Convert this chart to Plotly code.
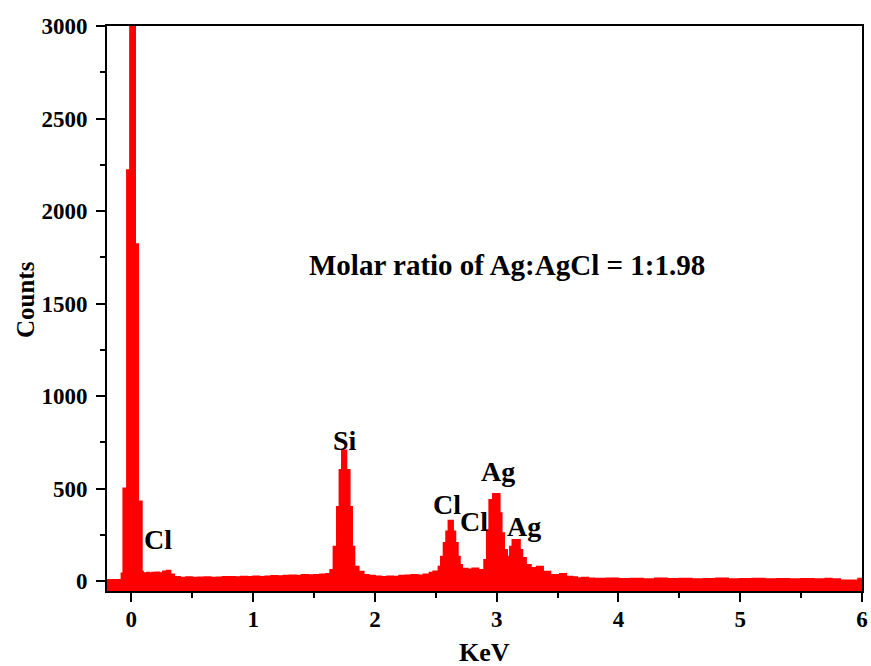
import plotly.graph_objects as go

# EDS spectrum (step edges in keV, counts per step)
energy = [-0.20, -0.08, -0.065, -0.035, -0.01, 0.03, 0.055, 0.085, 0.095, 0.11,
          0.13, 0.15, 0.17, 0.20, 0.23, 0.26, 0.29, 0.32, 0.35, 0.40,
          0.45, 0.50, 0.55, 0.60, 0.65, 0.70, 0.75, 0.80, 0.85, 0.90,
          0.95, 1.00, 1.05, 1.10, 1.15, 1.20, 1.25, 1.30, 1.35, 1.40,
          1.45, 1.50, 1.55, 1.60, 1.634, 1.661, 1.689, 1.710, 1.730, 1.765,
          1.792, 1.812, 1.831, 1.866, 1.907, 1.95, 2.00, 2.05, 2.10, 2.15,
          2.20, 2.25, 2.30, 2.35, 2.40, 2.45, 2.48, 2.523, 2.543, 2.565,
          2.586, 2.605, 2.641, 2.66, 2.68, 2.697, 2.715, 2.76, 2.80, 2.85,
          2.898, 2.92, 2.94, 2.97, 3.024, 3.04, 3.06, 3.085, 3.11, 3.13,
          3.19, 3.21, 3.24, 3.28, 3.33, 3.38, 3.44, 3.52, 3.57, 3.62,
          3.66, 3.70, 3.75, 3.80, 3.90, 4.00, 4.10, 4.20, 4.30, 4.40,
          4.50, 4.60, 4.70, 4.80, 4.90, 5.00, 5.10, 5.20, 5.30, 5.40,
          5.50, 5.60, 5.70, 5.75, 5.82, 5.97, 6.00]
counts = [5, 40, 500, 2220, 3100, 1820, 430, 50, 20, 42,
          45, 38, 44, 46, 42, 52, 55, 35, 22, 18,
          20, 17, 19, 20, 18, 19, 21, 22, 20, 23,
          21, 24, 22, 25, 27, 26, 28, 30, 29, 32,
          31, 33, 35, 38, 59, 185, 400, 600, 705, 600,
          400, 185, 77, 50, 32, 28, 24, 22, 25, 23,
          28, 30, 32, 30, 35, 45, 52, 77, 131, 205,
          267, 326, 267, 205, 131, 86, 66, 62, 68, 60,
          113, 275, 438, 470, 366, 258, 168, 131, 185, 222,
          168, 124, 86, 70, 77, 50, 32, 38, 23, 20,
          15, 18, 14, 12, 13, 11, 12, 10, 13, 11,
          12, 10, 11, 13, 10, 11, 12, 10, 11, 9,
          11, 10, 12, 9, 3, 12, 12]

x_range = [-0.2, 6.0]
y_range = [-54, 3000]

peak_labels = ["Cl", "Si", "Cl", "Cl", "Ag", "Ag"]
peak_x = [0.215, 1.757, 2.59, 2.816, 3.009, 3.223]
peak_y = [222, 762, 416, 324, 590, 295]

note_text = "Molar ratio of Ag:AgCl = 1:1.98"
note_x = 3.087
note_y = 1708

x_title = "KeV"
y_title = "Counts"

RED = "#FF0000"
FONT = "Liberation Serif"

fig = go.Figure()
fig.add_trace(go.Scatter(x=energy, y=[y_range[0]] * len(energy), mode="lines",
                         line=dict(width=0, shape="hv"), hoverinfo="skip",
                         showlegend=False))
fig.add_trace(go.Scatter(x=energy, y=counts, mode="lines",
                         line=dict(color=RED, width=2, shape="hv"),
                         fill="tonexty", fillcolor=RED, showlegend=False))

for t, x, y in zip(peak_labels, peak_x, peak_y):
    fig.add_annotation(x=x, y=y, text="<b>%s</b>" % t, showarrow=False,
                       font=dict(family=FONT, size=28, color="black"))
fig.add_annotation(x=note_x, y=note_y, text="<b>%s</b>" % note_text, showarrow=False,
                   font=dict(family=FONT, size=29, color="black"))

# axis titles placed beside the axes
fig.add_annotation(xref="paper", yref="paper", x=0.5, y=0, yanchor="middle",
                   yshift=-61, text="<b>%s</b>" % x_title, showarrow=False,
                   font=dict(family=FONT, size=26, color="black"))
fig.add_annotation(xref="paper", yref="paper", x=0, y=0.515, xanchor="center",
                   xshift=-82, text="<b>%s</b>" % y_title, showarrow=False,
                   textangle=-90, font=dict(family=FONT, size=25, color="black"))

axis_common = dict(showline=True, linecolor="black", linewidth=2, mirror=True,
                   ticks="outside", ticklen=9, tickwidth=2, tickcolor="black",
                   showgrid=False, zeroline=False, automargin=False,
                   ticklabeloverflow="allow",
                   tickfont=dict(family=FONT, size=23, color="black", weight="bold"))

fig.update_xaxes(range=x_range, dtick=1, tick0=0,
                 minor=dict(dtick=0.5, tick0=0, ticks="outside", ticklen=5,
                            tickwidth=2, tickcolor="black", showgrid=False),
                 ticklabelstandoff=-3,
                 **axis_common)
fig.update_yaxes(range=y_range, dtick=500, tick0=0,
                 minor=dict(dtick=250, tick0=0, ticks="outside", ticklen=5,
                            tickwidth=2, tickcolor="black", showgrid=False),
                 ticklabelstandoff=4,
                 **axis_common)

fig.update_layout(width=871, height=666, margin=dict(l=107, r=9, t=26, b=75),
                  plot_bgcolor="white", paper_bgcolor="white")

# remove the default page margin so the figure fills the window exactly
fig.write_html("out.html", config={"displayModeBar": False},
               post_script="document.body.style.margin='0';document.body.style.overflow='hidden';")
